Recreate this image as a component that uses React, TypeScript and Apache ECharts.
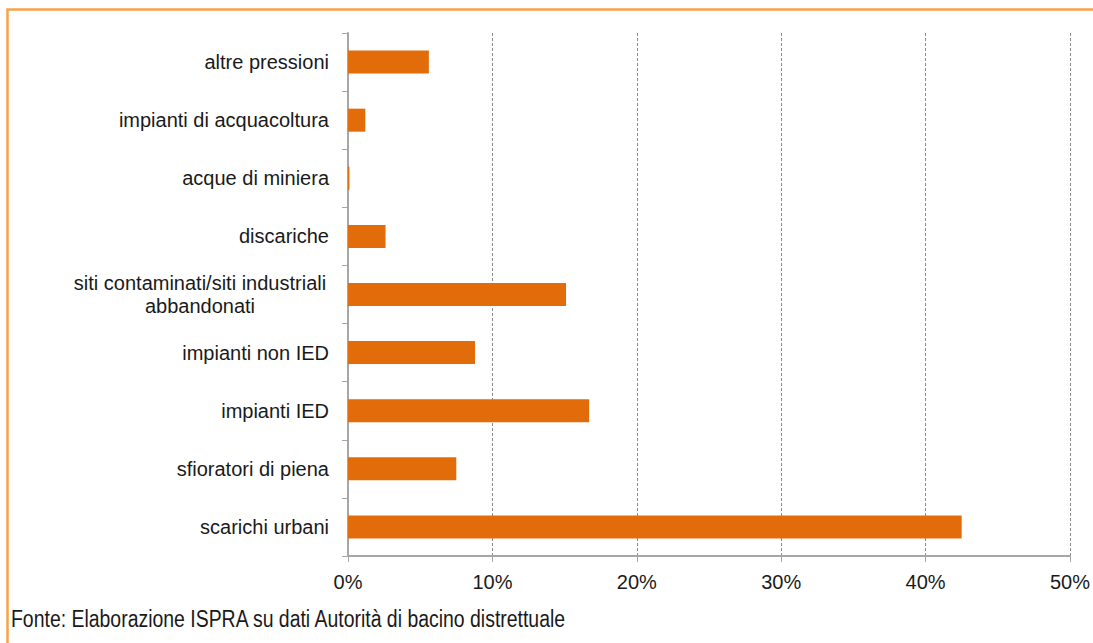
import React, { useEffect, useRef } from "react";
import * as echarts from "echarts";

// Categories from top to bottom
const categories = [
  "altre pressioni",
  "impianti di acquacoltura",
  "acque di miniera",
  "discariche",
  "siti contaminati/siti industriali abbandonati",
  "impianti non IED",
  "impianti IED",
  "sfioratori di piena",
  "scarichi urbani",
];

// Share of pressures (%)
const shares = [5.6, 1.2, 0.1, 2.6, 15.1, 8.8, 16.7, 7.5, 42.5];

const xTicks = [0, 10, 20, 30, 40, 50];

const sourceNote = "Fonte: Elaborazione ISPRA su dati Autorità di bacino distrettuale";

const ORANGE = "#E36C0A";
const FRAME = "#F7A247";
const AXIS_GREY = "#A6A6A6";
const FONT = "Liberation Sans, Arial, sans-serif";

export default function App() {
  const ref = useRef<HTMLDivElement>(null);

  useEffect(() => {
    if (!ref.current) return;
    const chart = echarts.init(ref.current, null, { renderer: "svg" });
    chart.setOption({
      animation: false,
      backgroundColor: "#ffffff",
      textStyle: { fontFamily: FONT },
      grid: { left: 348, right: 20, top: 33, bottom: 87, containLabel: false },
      xAxis: {
        type: "value",
        min: xTicks[0],
        max: xTicks[xTicks.length - 1],
        interval: 10,
        axisLine: { show: true, lineStyle: { color: AXIS_GREY, width: 2 } },
        axisTick: { show: true, length: 6, lineStyle: { color: AXIS_GREY, width: 1 } },
        axisLabel: {
          formatter: "{value}%",
          color: "#1a1a1a",
          fontSize: 20,
          margin: 16,
          fontFamily: FONT,
        },
        splitLine: {
          show: true,
          lineStyle: { color: "#8c8c8c", type: [3, 2], width: 1 },
        },
      },
      yAxis: {
        type: "category",
        data: categories,
        inverse: true,
        axisLine: { show: true, lineStyle: { color: AXIS_GREY, width: 2 } },
        axisTick: { show: true, length: 6, interval: 0, lineStyle: { color: AXIS_GREY, width: 1 } },
        axisLabel: {
          interval: 0,
          color: "#1a1a1a",
          fontSize: 20,
          margin: 19,
          lineHeight: 23,
          fontFamily: FONT,
          formatter: (v: string) => {
            if (v.startsWith("siti contaminati")) {
              return "{c|siti contaminati/siti industriali}\n{c|abbandonati}";
            }
            return v;
          },
          rich: {
            c: {
              width: 258,
              align: "center",
              fontSize: 20,
              lineHeight: 23,
              color: "#1a1a1a",
              fontFamily: FONT,
            },
          },
        },
        splitLine: { show: false },
      },
      series: [
        {
          type: "bar",
          data: shares,
          barWidth: 23,
          itemStyle: { color: ORANGE },
        },
      ],
      graphic: [
        {
          type: "rect",
          shape: { x: 7.5, y: 9.5, width: 1200, height: 800 },
          style: { fill: "none", stroke: FRAME, lineWidth: 2.5 },
          silent: true,
        },
        {
          type: "text",
          x: 11,
          y: 619,
          scaleX: 0.81,
          style: {
            text: sourceNote,
            fill: "#1a1a1a",
            fontSize: 24,
            fontFamily: FONT,
            textVerticalAlign: "middle",
          },
        },
      ],
    });
    return () => chart.dispose();
  }, []);

  return (
    <div
      ref={ref}
      style={{ position: "fixed", left: 0, top: 0, width: 1093, height: 643 }}
    />
  );
}
